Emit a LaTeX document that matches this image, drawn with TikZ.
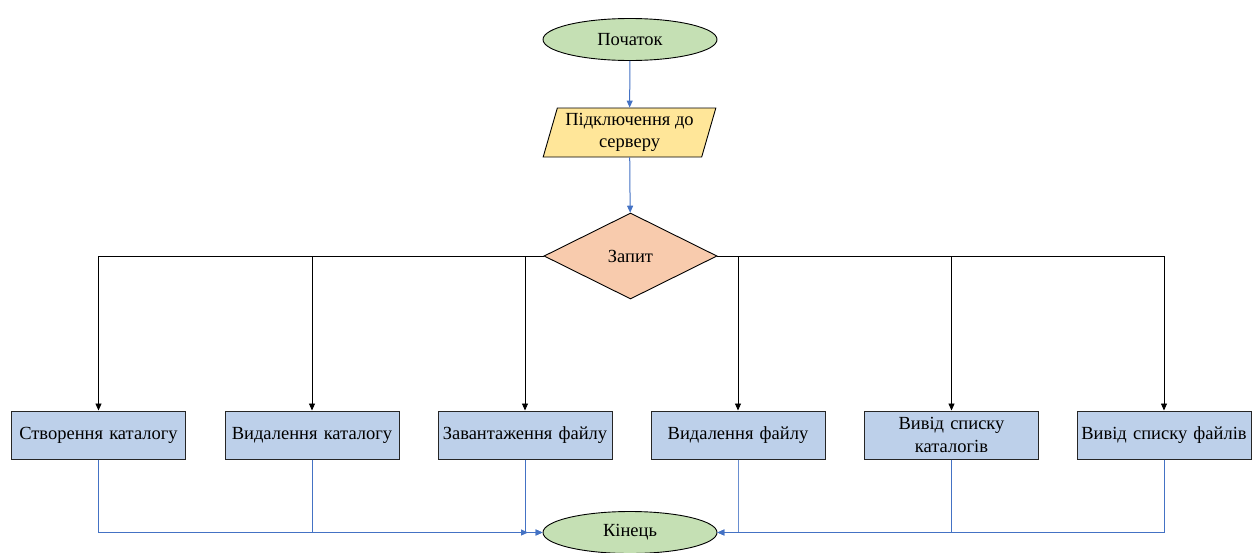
\documentclass[tikz,border=0pt]{standalone}
\usepackage{fontspec}
\setmainfont{Liberation Serif}
\usetikzlibrary{shapes.geometric,arrows.meta}
\definecolor{termfill}{HTML}{C5E0B4}
\definecolor{iofill}{HTML}{FFE699}
\definecolor{decfill}{HTML}{F8CBAD}
\definecolor{procfill}{HTML}{BDD0EA}
\definecolor{flowblue}{HTML}{4472C4}
\tikzset{
  every node/.style={font=\fontsize{18.5}{22.5}\selectfont, align=center, inner sep=0pt},
  term/.style={ellipse, draw=black, fill=termfill, line width=0.9pt, minimum width=174pt, minimum height=42pt},
  iobox/.style={trapezium, trapezium left angle=72, trapezium right angle=108, trapezium stretches=true,
                draw=black, fill=iofill, line width=0.9pt, minimum width=173pt, minimum height=49pt},
  decision/.style={diamond, draw=black, fill=decfill, line width=0.9pt, minimum width=173pt, minimum height=86pt, aspect=2},
  proc/.style={rectangle, draw=black!85, fill=procfill, line width=1pt, minimum width=174pt, minimum height=48pt, text width=172pt},
  blackflow/.style={draw=black, line width=0.9pt, -{Triangle[length=7pt,width=6pt]}},
  blueflow/.style={draw=flowblue, line width=1pt, -{Triangle[length=7pt,width=6pt]}},
  blueline/.style={draw=flowblue!80, line width=1pt},
}
\begin{document}
\begin{tikzpicture}[x=1pt,y=-1pt]
  \useasboundingbox (0,0) rectangle (1257,552);

  % start, input, decision
  \node[term] (start) at (630,39.5) {Початок};
  \node[iobox] (conn) at (629.5,132.5) {Підключення до\\серверу};
  \node[decision] (req) at (630.5,256) {Запит};

  % operations
  \node[proc] (b1) at (98.5,435) {Створення каталогу};
  \node[proc] (b2) at (312,435) {Видалення каталогу};
  \node[proc] (b3) at (525,435) {Завантаження файлу};
  \node[proc] (b4) at (738,435) {Видалення файлу};
  \node[proc] (b5) at (951.5,435) {Вивід списку\\каталогів};
  \node[proc] (b6) at (1164,435) {Вивід списку файлів};

  % end
  \node[term] (stop) at (630,532.5) {Кінець};

  % main flow
  \draw[blueflow] (start) -- (conn);
  \draw[blueflow] (conn) -- (req);

  % branches of the request
  \draw[blackflow] (req.west) -| (b1.north);
  \draw[blackflow] (req.west) -| (b2.north);
  \draw[blackflow] (req.west) -| (b3.north);
  \draw[blackflow] (req.east) -| (b4.north);
  \draw[blackflow] (req.east) -| (b5.north);
  \draw[blackflow] (req.east) -| (b6.north);

  % merging into the end
  \coordinate (j3) at (528,532.5);
  \draw[blueflow] (b1.south) |- (stop.west);
  \draw[blueflow] (b2.south) |- (stop.west);
  \draw[blueflow] (b3.south) |- (j3);
  \draw[blueline] (b4.south) |- (stop.east);
  \draw[blueflow] (b5.south) |- (stop.east);
  \draw[blueflow] (b6.south) |- (stop.east);
\end{tikzpicture}
\end{document}
